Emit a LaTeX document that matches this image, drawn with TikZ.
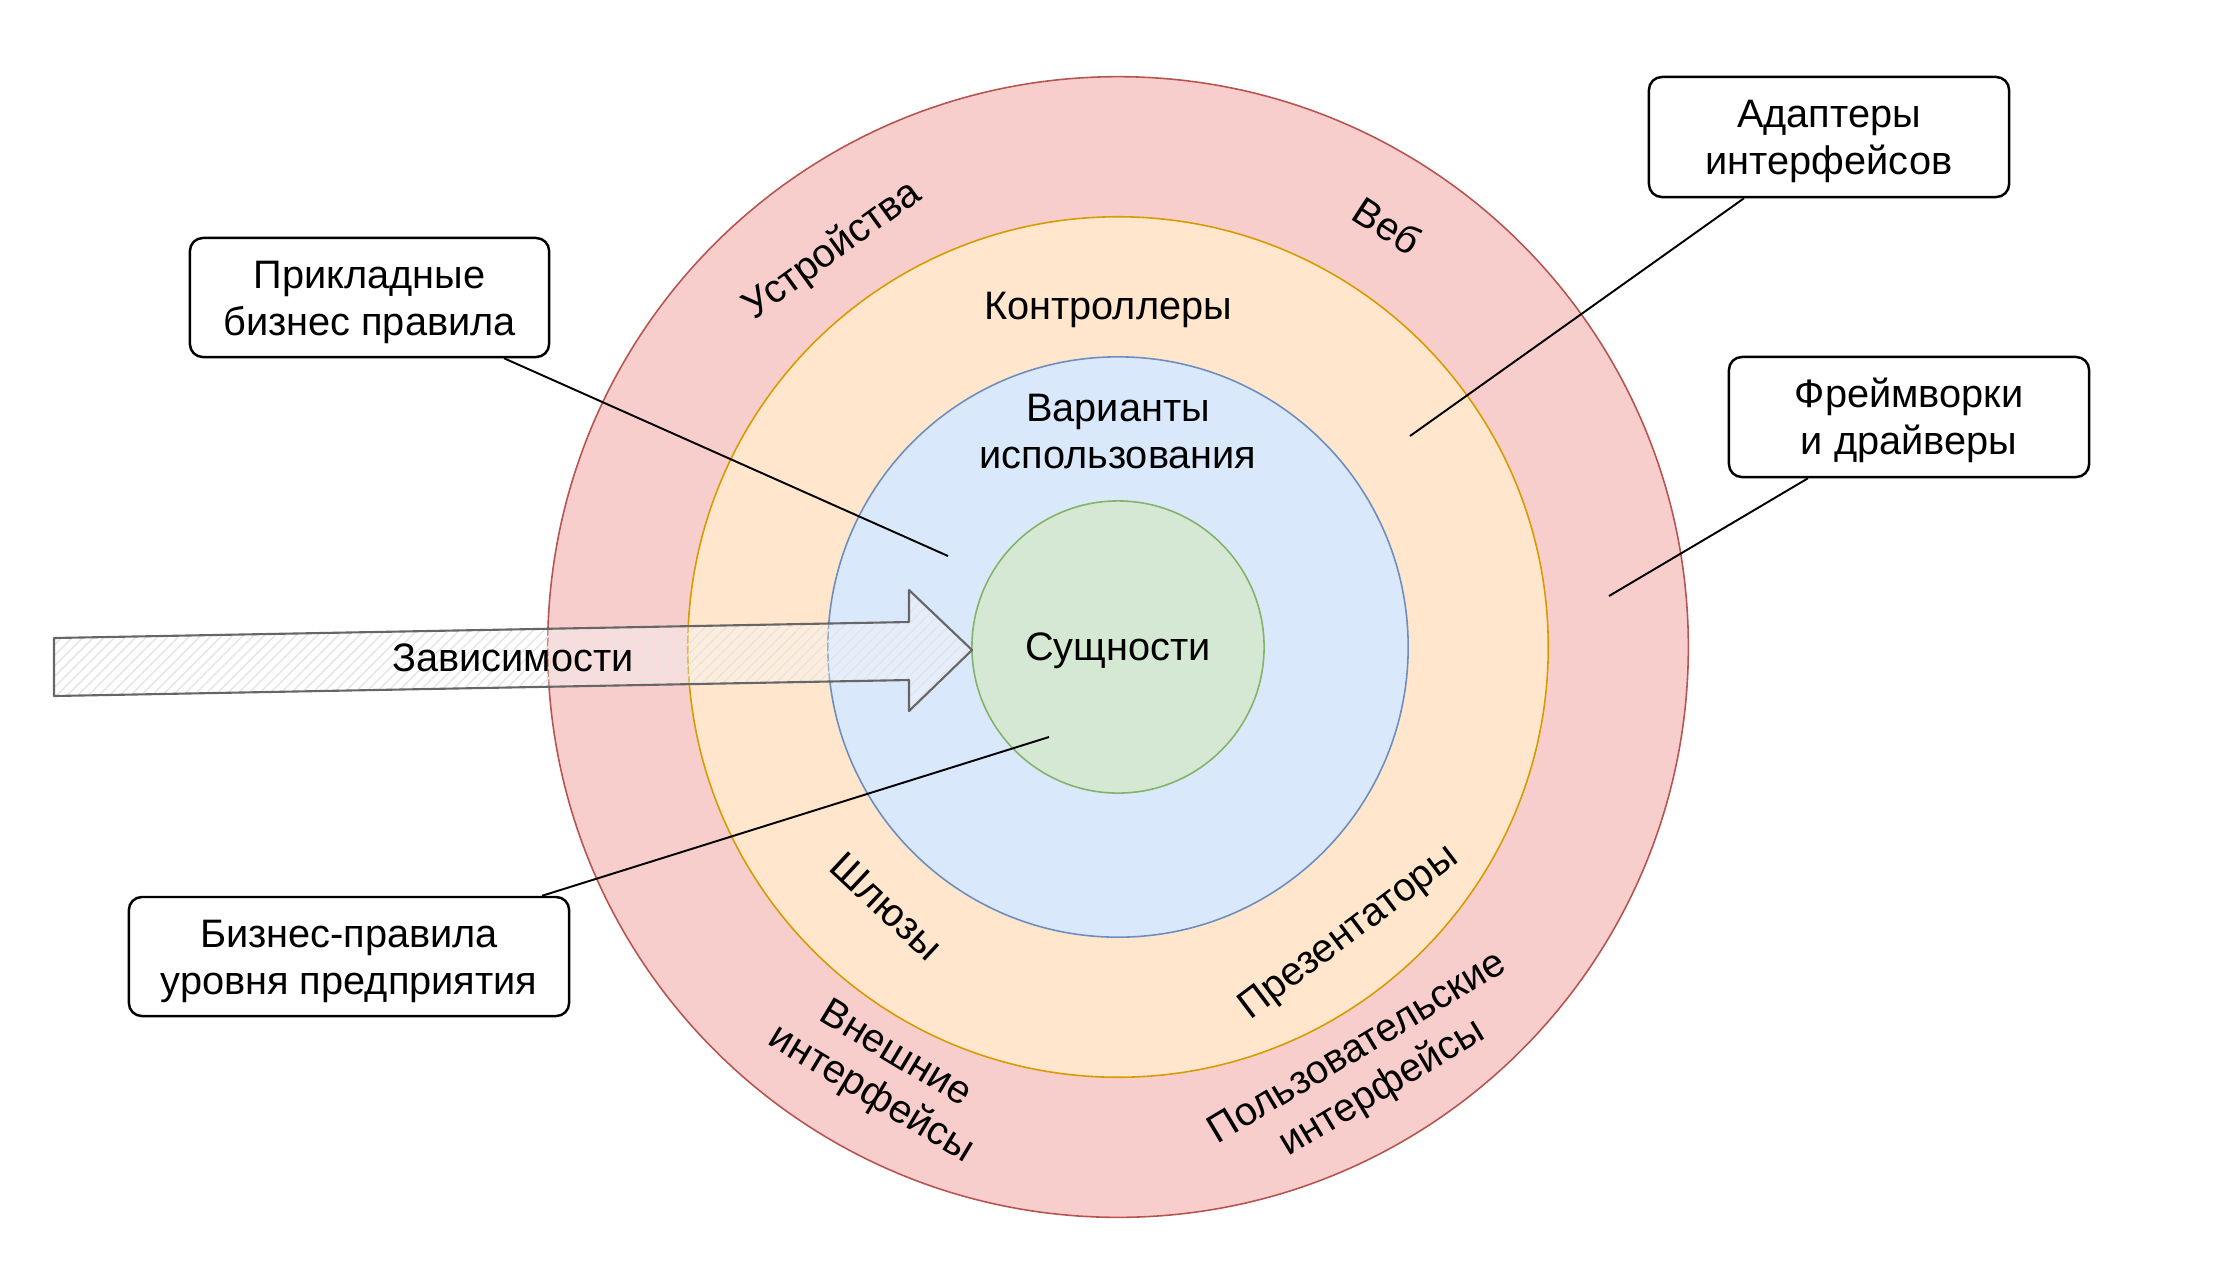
\documentclass[tikz,border=0pt]{standalone}
\usepackage{fontspec}
\setmainfont{Liberation Sans}
\usetikzlibrary{patterns,calc}
\definecolor{redF}{HTML}{F8CECC}\definecolor{redD}{HTML}{B85450}
\definecolor{orgF}{HTML}{FFE6CC}\definecolor{orgD}{HTML}{D79B00}
\definecolor{bluF}{HTML}{DAE8FC}\definecolor{bluD}{HTML}{6C8EBF}
\definecolor{grnF}{HTML}{D5E8D4}\definecolor{grnD}{HTML}{82B366}
\definecolor{arrD}{HTML}{666666}
% struts that fix the vertical placement of text
\newcommand\LnTop{\rule{0pt}{11.1pt}}
\newcommand\LnBot{\rule[-3pt]{0pt}{3pt}}
\newcommand\LnOne{\rule[-3pt]{0pt}{13.8pt}}
\tikzset{
  ring/.style={circle, inner sep=0pt, line width=0.45pt},
  lbl/.style={font=\fontsize{11.3}{13.3}\selectfont, align=center, inner sep=0pt},
  callout/.style={draw=black, fill=white, rounded corners=0.13cm, line width=0.7pt,
     font=\fontsize{11.3}{13.3}\selectfont, align=center, inner sep=0pt},
  conn/.style={draw=black, line width=0.55pt}
}
\begin{document}
\begin{tikzpicture}[x=0.01cm,y=-0.01cm]
\useasboundingbox (0,0) rectangle (2219,1269);
% rings
\node[ring, draw=redD, fill=redF, minimum size=11.4cm] (outer) at (1118,647) {};
\node[ring, draw=orgD, fill=orgF, minimum size=8.6cm] (mid) at (1118,647) {};
\node[ring, draw=bluD, fill=bluF, minimum size=5.8cm] (inner) at (1118,647) {};
\node[ring, draw=grnD, fill=grnF, minimum size=2.92cm] (core) at (1118,647) {};
% arrow
\coordinate (a1) at (54,638);
\coordinate (a2) at (909,622);
\coordinate (a3) at (909,590);
\coordinate (a4) at (972,650);
\coordinate (a5) at (909,711);
\coordinate (a6) at (909,680);
\coordinate (a7) at (54,696);
\fill[white, opacity=0.3] (a1)--(a2)--(a3)--(a4)--(a5)--(a6)--(a7)--cycle;
\fill[pattern=north east lines, pattern color=black!10] (a1)--(a2)--(a3)--(a4)--(a5)--(a6)--(a7)--cycle;
\draw[arrD, line width=0.6pt, line join=round] (a1)--(a2)--(a3)--(a4)--(a5)--(a6)--(a7)--cycle;
\node[lbl] (dep) at (513,658) {\LnOne Зависимости};
% ring labels
\node[lbl] (ctrl) at (1108,306) {\LnOne Контроллеры};
\node[lbl] (uc) at (1118,431) {\LnTop Варианты\\использования\LnBot};
\node[lbl] (ent) at (1118,647) {\LnOne Сущности};
\node[lbl, rotate=36] (dev) at (831,248) {\LnOne Устройства};
\node[lbl, rotate=-33] (web) at (1387,226) {\LnOne Веб};
\node[lbl, rotate=-43] (gw) at (887,906) {\LnOne Шлюзы};
\node[lbl, rotate=-31] (ext) at (885,1071) {\LnTop Внешние\\интерфейсы\LnBot};
\node[lbl, rotate=37] (pres) at (1347,930) {\LnOne Презентаторы};
\node[lbl, rotate=31] (ui) at (1368,1065) {\LnTop Пользовательские\\интерфейсы\LnBot};
% callouts
\node[callout, minimum width=3.59cm, minimum height=1.19cm] (b1) at (369.5,297.5) {\LnTop Прикладные\\бизнес правила\LnBot};
\node[callout, minimum width=3.6cm, minimum height=1.2cm] (b2) at (1829,137) {\LnTop Адаптеры\\интерфейсов\LnBot};
\node[callout, minimum width=3.6cm, minimum height=1.2cm] (b3) at (1909,417) {\LnTop Фреймворки\\и драйверы\LnBot};
\node[callout, minimum width=4.4cm, minimum height=1.19cm] (b4) at (349,956.5) {\LnTop Бизнес-правила\\уровня предприятия\LnBot};
% connector ends
\coordinate (e1) at (948,556);
\coordinate (e2) at (1410,436);
\coordinate (e3) at (1609,596);
\coordinate (e4) at (1049,737);
\draw[conn] ([xshift=1.345cm]b1.south) -- (e1);
\draw[conn] ([xshift=-0.85cm]b2.south) -- (e2);
\draw[conn] ([xshift=-1.01cm]b3.south) -- (e3);
\draw[conn] ([xshift=1.93cm]b4.north) -- (e4);
\end{tikzpicture}
\end{document}
